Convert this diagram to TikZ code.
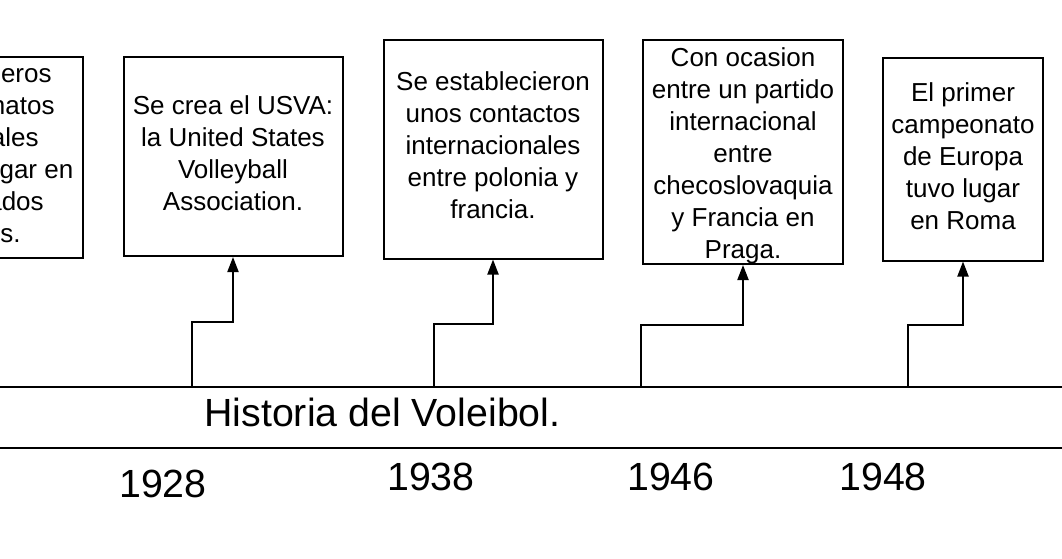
\documentclass[tikz,border=0pt]{standalone}
\usepackage{fontspec}
\setmainfont{Liberation Sans}
\usetikzlibrary{arrows.meta}
\begin{document}
\begin{tikzpicture}[x=1pt,y=-1pt,
  box/.style={draw,line width=2pt,inner sep=0pt},
  txt/.style={inner sep=0pt,align=center,font=\fontsize{26}{32}\selectfont},
  conn/.style={line width=2pt,-{Triangle[length=15pt,width=11pt]}},
  tl/.style={line width=2pt},
  big/.style={font=\fontsize{39.3}{47}\selectfont,inner sep=0pt,anchor=base}]
\fill[white] (0,0) rectangle (1062,558);
\useasboundingbox (0,0) rectangle (1062,558);
\clip (0,0) rectangle (1062,558);

% event boxes
\node[box,minimum width=220,minimum height=201] (b1) at (-27,157.5) {};
\node[txt] (t1) at (-23.5,153.5)
  {Los primeros\\campeonatos\\nacionales\\tuvieron lugar en\\los Estados\\Unidos.};
\node[box,minimum width=219,minimum height=199] (b2) at (233,156.5) {};
\node[txt] (t2) at (233,153.5)
  {Se crea el USVA:\\la United States\\Volleyball\\Association.};
\node[box,minimum width=219,minimum height=219] (b3) at (493,149) {};
\node[txt] (t3) at (493,145)
  {Se establecieron\\unos contactos\\internacionales\\entre polonia y\\francia.};
\node[box,minimum width=200,minimum height=224] (b4) at (743,152) {};
\node[txt] (t4) at (743,156)
  {Con ocasion\\entre un partido\\internacional\\entre\\checoslovaquia\\y Francia en\\Praga.};
\node[box,minimum width=160,minimum height=203] (b5) at (963,159) {};
\node[txt] (t5) at (963,156)
  {El primer\\campeonato\\de Europa\\tuvo lugar\\en Roma};

% timeline band
\coordinate (tA) at (-5,387);
\coordinate (tB) at (1067,387);
\coordinate (bA) at (-5,447.5);
\coordinate (bB) at (1067,447.5);
\draw[tl] (tA) -- (tB);
\draw[tl] (bA) -- (bB);

\node[big] (title) at (382.5,426) {Historia del Voleibol.};

% years
\node[big] (y1) at (163,497) {1928};
\node[big] (y2) at (431,490) {1938};
\node[big] (y3) at (671,490) {1946};
\node[big] (y4) at (883,490) {1948};

% connectors
\coordinate (s2) at (192,387);  \coordinate (e2) at (192,322);
\coordinate (s3) at (434,387);  \coordinate (e3) at (434,323.5);
\coordinate (s4) at (641,387);  \coordinate (e4) at (641,325);
\coordinate (s5) at (908,387);  \coordinate (e5) at (908,325);
\draw[conn] (s2) -- (e2) -| (b2.south);
\draw[conn] (s3) -- (e3) -| (b3.south);
\draw[conn] (s4) -- (e4) -| (b4.south);
\draw[conn] (s5) -- (e5) -| (b5.south);
\end{tikzpicture}
\end{document}
